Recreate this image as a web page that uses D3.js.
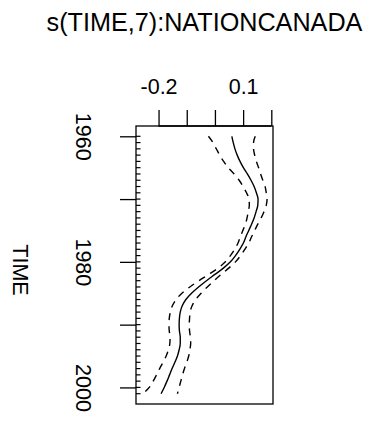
<!DOCTYPE html>
<html>
<head>
<meta charset="utf-8">
<script src="https://cdn.jsdelivr.net/npm/d3@7"></script>
<style>
  html, body { margin: 0; padding: 0; background: #ffffff; }
  svg { display: block; }
  text { font-family: "Liberation Sans", Arial, Helvetica, sans-serif; fill: #000; }
</style>
</head>
<body>
<svg id="chart" width="383" height="422"></svg>
<script>
// Smooth term s(TIME,7) for NATION = CANADA, with +/- 2 s.e. band
const years = d3.range(1960, 2002);
const fit = [
  0.060, 0.065, 0.071, 0.079, 0.089, 0.101, 0.115, 0.128, 0.139, 0.147,
  0.153, 0.152, 0.146, 0.139, 0.130, 0.120, 0.110, 0.101, 0.088, 0.073,
  0.055, 0.030, 0.000, -0.030, -0.058, -0.083, -0.103, -0.116, -0.123, -0.126,
  -0.127, -0.126, -0.123, -0.123, -0.127, -0.133, -0.142, -0.152, -0.161, -0.170,
  -0.180, -0.191
];
const upper = [
  0.143, 0.137, 0.137, 0.141, 0.147, 0.155, 0.162, 0.170, 0.178, 0.182,
  0.185, 0.182, 0.174, 0.164, 0.152, 0.141, 0.130, 0.120, 0.106, 0.091,
  0.073, 0.049, 0.022, -0.003, -0.027, -0.049, -0.068, -0.081, -0.088, -0.090,
  -0.091, -0.090, -0.087, -0.086, -0.089, -0.093, -0.100, -0.108, -0.115, -0.121,
  -0.127, -0.133
];
const lower = [
  -0.023, -0.007, 0.005, 0.017, 0.031, 0.047, 0.068, 0.086, 0.100, 0.112,
  0.121, 0.122, 0.118, 0.114, 0.108, 0.099, 0.090, 0.082, 0.070, 0.055,
  0.037, 0.011, -0.022, -0.057, -0.089, -0.117, -0.138, -0.151, -0.158, -0.162,
  -0.163, -0.162, -0.159, -0.160, -0.165, -0.173, -0.184, -0.196, -0.207, -0.219,
  -0.233, -0.255
];
const xTicks = [-0.2, -0.1, 0.0, 0.1, 0.2];
const xTickLabels = ["-0.2", "", "", "0.1", ""];
const yTicks = [1960, 1970, 1980, 1990, 2000];
const yTickLabels = ["1960", "", "1980", "", "2000"];
const title = "s(TIME,7):NATIONCANADA";
const yTitle = "TIME";

const box = { left: 136, right: 273, top: 126, bottom: 404 };
const svg = d3.select("#chart");

// value axis runs horizontally, TIME runs downward
const x = d3.scaleLinear().domain([-0.28, 0.206]).range([box.left, box.right]);
const pad = 0.04 * (years[years.length - 1] - years[0]);
const y = d3.scaleLinear()
  .domain([years[0] - pad, years[years.length - 1] + pad])
  .range([box.top, box.bottom]);

// plot frame
svg.append("rect")
  .attr("x", box.left).attr("y", box.top)
  .attr("width", box.right - box.left).attr("height", box.bottom - box.top)
  .attr("fill", "none").attr("stroke", "#000").attr("stroke-width", 1.3);

// top axis
const xAxis = svg.append("g")
  .attr("transform", `translate(0,${box.top})`)
  .call(d3.axisTop(x).tickValues(xTicks)
    .tickFormat((d, i) => xTickLabels[i])
    .tickSize(16).tickSizeOuter(0).tickPadding(16));
xAxis.select(".domain").remove();
xAxis.append("line")
  .attr("x1", x(xTicks[0])).attr("x2", x(xTicks[xTicks.length - 1]))
  .attr("stroke", "#000").attr("stroke-width", 1.3);
xAxis.selectAll(".tick line").attr("stroke-width", 1.3);
xAxis.selectAll(".tick text")
  .attr("font-size", 21.5).attr("font-family", "Liberation Sans, Arial, sans-serif")
  .attr("fill", "#000");

// left axis, labels turned to read downward
const yAxis = svg.append("g")
  .attr("transform", `translate(${box.left},0)`)
  .call(d3.axisLeft(y).tickValues(yTicks)
    .tickFormat((d, i) => yTickLabels[i])
    .tickSize(16).tickSizeOuter(0));
yAxis.select(".domain").remove();
yAxis.selectAll(".tick line").attr("stroke-width", 1.3);
yAxis.selectAll(".tick text")
  .attr("font-size", 21.5).attr("font-family", "Liberation Sans, Arial, sans-serif")
  .attr("fill", "#000")
  .attr("x", 0).attr("dy", null).attr("y", 0)
  .attr("text-anchor", "middle")
  .attr("transform", "translate(-60,0) rotate(90)");

// rug of observed years
svg.append("g").selectAll("line").data(years).join("line")
  .attr("x1", box.left).attr("x2", box.left + 4.5)
  .attr("y1", d => y(d)).attr("y2", d => y(d))
  .attr("stroke", "#000").attr("stroke-width", 1.2);

// fitted curve and confidence band
const line = vals => d3.line()
  .x((d, i) => x(vals[i]))
  .y((d, i) => y(years[i]))
  .curve(d3.curveMonotoneY)(years);

svg.append("path").attr("d", line(fit))
  .attr("fill", "none").attr("stroke", "#000").attr("stroke-width", 1.4);
[upper, lower].forEach(vals => {
  svg.append("path").attr("d", line(vals))
    .attr("fill", "none").attr("stroke", "#000").attr("stroke-width", 1.4)
    .attr("stroke-dasharray", "7,6");
});

// titles
svg.append("text")
  .attr("x", (box.left + box.right) / 2).attr("y", 31)
  .attr("text-anchor", "middle").attr("font-size", 25.2)
  .text(title);
svg.append("text")
  .attr("transform", `translate(13,${y(1981.3)}) rotate(90)`)
  .attr("text-anchor", "middle").attr("font-size", 21.5)
  .text(yTitle);
</script>
</body>
</html>
